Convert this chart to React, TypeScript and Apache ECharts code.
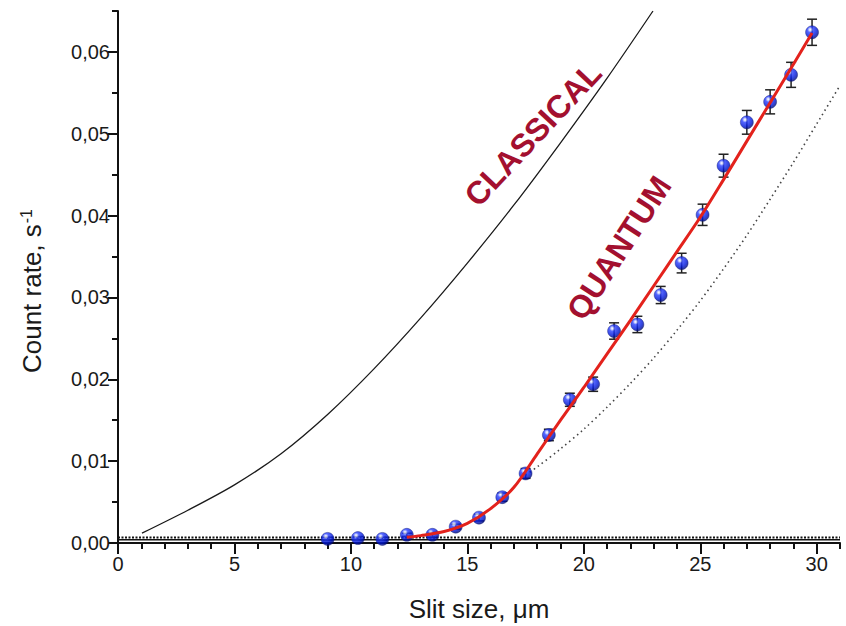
import React, { useEffect, useRef } from "react";
import * as echarts from "echarts";

// Measured data (slit size in µm, count rate in s^-1)
const slitSize = [9.0, 10.3, 11.35, 12.4, 13.5, 14.5, 15.5, 16.5, 17.5, 18.5, 19.4, 20.4, 21.3, 22.3, 23.3, 24.2, 25.1, 26.0, 27.0, 28.0, 28.9, 29.8];
const countRate = [0.0005, 0.0006, 0.0005, 0.001, 0.001, 0.002, 0.0031, 0.0056, 0.0085, 0.0132, 0.0175, 0.0194, 0.0259, 0.0267, 0.0303, 0.0342, 0.0401, 0.0461, 0.0514, 0.0539, 0.0572, 0.0624];
const countErr = [0.0002, 0.0002, 0.0002, 0.0002, 0.0003, 0.0003, 0.0004, 0.0005, 0.0006, 0.0007, 0.0008, 0.00087, 0.001, 0.001, 0.00105, 0.0012, 0.0013, 0.0014, 0.00145, 0.00147, 0.00153, 0.0016];

// Quantum fit (red)
const fitX = [12.4, 13, 14, 15, 16, 17, 18, 19, 20, 21, 22, 23, 24, 25, 26, 27, 28, 29, 29.8];
const fitY = [0.0007, 0.0009, 0.0014, 0.0024, 0.0042, 0.0068, 0.0109, 0.015, 0.019, 0.0231, 0.0272, 0.0314, 0.0356, 0.0398, 0.0444, 0.0491, 0.0538, 0.0585, 0.0623];

// Classical curve (black solid)
const classicalX = [1.03, 3, 5, 7, 9, 11, 13, 15, 17, 19, 21, 22.97];
const classicalY = [0.0012, 0.004, 0.0071, 0.0109, 0.0157, 0.0213, 0.0275, 0.0342, 0.0413, 0.0489, 0.0568, 0.065];

// Dotted curve
const dottedX = [17.5, 18, 19, 20, 21, 22, 23, 24, 25, 26, 27, 28, 29, 30, 31];
const dottedY = [0.0083, 0.0093, 0.0115, 0.0139, 0.0166, 0.0195, 0.0226, 0.026, 0.0296, 0.0335, 0.0376, 0.042, 0.0465, 0.0512, 0.0559];

// Background levels near zero
const backgroundX = [0, 31];
const backgroundSolid = 0.0004;
const backgroundDotted = 0.00068;

const xMajorTicks = [0, 5, 10, 15, 20, 25, 30];
const yMajorTicks = [0, 0.01, 0.02, 0.03, 0.04, 0.05, 0.06];

const FONT = "'Liberation Sans', Arial, Helvetica, sans-serif";

export default function App() {
  const ref = useRef<HTMLDivElement>(null);

  useEffect(() => {
    if (!ref.current) return;
    const chart = echarts.init(ref.current, null, { renderer: "svg" });

    const pts = slitSize.map((x, i) => [x, countRate[i]]);
    const errData = slitSize.map((x, i) => [x, countRate[i] - countErr[i], countRate[i] + countErr[i]]);
    const zip = (xs: number[], ys: number[]) => xs.map((x, i) => [x, ys[i]]);

    const sphere = {
      type: "radial",
      x: 0.36,
      y: 0.3,
      r: 0.72,
      colorStops: [
        { offset: 0, color: "#ffffff" },
        { offset: 0.12, color: "#c4ccff" },
        { offset: 0.3, color: "#2a40ff" },
        { offset: 0.72, color: "#0016d8" },
        { offset: 1, color: "#000a78" },
      ],
    };

    const axisCommonX = {
      type: "value",
      min: 0,
      max: 31,
      position: "bottom",
      splitLine: { show: false },
    };
    const axisCommonY = {
      type: "value",
      min: 0,
      max: 0.065,
      position: "left",
      splitLine: { show: false },
    };

    chart.setOption({
      animation: false,
      backgroundColor: "#ffffff",
      grid: { left: 118, top: 11, width: 722, height: 532, containLabel: false },
      xAxis: [
        {
          ...axisCommonX,
          interval: 5,
          axisLine: { show: true, lineStyle: { color: "#111", width: 2 } },
          axisTick: { show: true, inside: false, length: 11, lineStyle: { color: "#111", width: 2 }, customValues: xMajorTicks },
          axisLabel: {
            show: true,
            customValues: xMajorTicks,
            margin: 11,
            color: "#1a1a1a",
            fontSize: 20,
            fontFamily: FONT,
            formatter: (v: number) => String(Math.round(v)),
          },
        },
        {
          ...axisCommonX,
          interval: 1,
          axisLine: { show: false },
          axisTick: { show: true, inside: false, length: 6, lineStyle: { color: "#111", width: 2 } },
          axisLabel: { show: false },
        },
      ],
      yAxis: [
        {
          ...axisCommonY,
          interval: 0.01,
          axisLine: { show: true, lineStyle: { color: "#111", width: 2 } },
          axisTick: { show: true, inside: false, length: 10, lineStyle: { color: "#111", width: 2 }, customValues: yMajorTicks },
          axisLabel: {
            show: true,
            customValues: yMajorTicks,
            margin: 8,
            color: "#1a1a1a",
            fontSize: 20,
            fontFamily: FONT,
            formatter: (v: number) => v.toFixed(2).replace(".", ","),
          },
        },
        {
          ...axisCommonY,
          interval: 0.005,
          axisLine: { show: false },
          axisTick: { show: true, inside: false, length: 6, lineStyle: { color: "#111", width: 2 } },
          axisLabel: { show: false },
        },
      ],
      graphic: [
        {
          type: "line",
          shape: { x1: 118, y1: 543, x2: 118, y2: 553 },
          style: { stroke: "#111", lineWidth: 2 },
        },
        {
          type: "text",
          x: 533,
          y: 134,
          rotation: (47 * Math.PI) / 180,
          style: {
            text: "CLASSICAL",
            fill: "#a3102f",
            font: `bold 32px ${FONT}`,
            align: "center",
            verticalAlign: "middle",
          },
          z: 10,
        },
        {
          type: "text",
          x: 619,
          y: 248,
          rotation: (57 * Math.PI) / 180,
          style: {
            text: "QUANTUM",
            fill: "#a3102f",
            font: `bold 32px ${FONT}`,
            align: "center",
            verticalAlign: "middle",
          },
          z: 10,
        },
        {
          type: "text",
          x: 479,
          y: 609,
          style: {
            text: "Slit size, μm",
            fill: "#1a1a1a",
            font: `26px ${FONT}`,
            align: "center",
            verticalAlign: "middle",
          },
        },
        {
          type: "text",
          x: 32,
          y: 291,
          rotation: Math.PI / 2,
          style: {
            text: "Count rate, s{sup|-1}",
            fill: "#1a1a1a",
            font: `26px ${FONT}`,
            fontSize: 26,
            fontFamily: FONT,
            align: "center",
            verticalAlign: "middle",
            rich: {
              sup: { fontSize: 16, fontFamily: FONT, fill: "#1a1a1a", verticalAlign: "top", padding: [0, 0, 12, 1] },
            },
          },
        },
      ],
      series: [
        {
          type: "line",
          name: "background solid",
          data: backgroundX.map((x) => [x, backgroundSolid]),
          symbol: "none",
          lineStyle: { color: "#111", width: 1.5 },
          z: 1,
        },
        {
          type: "line",
          name: "background dotted",
          data: backgroundX.map((x) => [x, backgroundDotted]),
          symbol: "none",
          lineStyle: { color: "#111", width: 2, type: [2, 1.5] },
          z: 1,
        },
        {
          type: "line",
          name: "classical",
          data: zip(classicalX, classicalY),
          symbol: "none",
          smooth: 0.3,
          lineStyle: { color: "#1a1a1a", width: 1.3 },
          z: 2,
        },
        {
          type: "line",
          name: "dotted",
          data: zip(dottedX, dottedY),
          symbol: "none",
          smooth: 0.3,
          lineStyle: { color: "#444", width: 1.6, type: [1.5, 3.5] },
          z: 2,
        },
        {
          type: "custom",
          name: "errors",
          data: errData,
          z: 3,
          renderItem: (params: any, api: any) => {
            const x = api.value(0);
            const lo = api.coord([x, api.value(1)]);
            const hi = api.coord([x, api.value(2)]);
            const cap = 5;
            const style = { stroke: "#222", lineWidth: 1.5 };
            return {
              type: "group",
              children: [
                { type: "line", shape: { x1: lo[0], y1: lo[1], x2: hi[0], y2: hi[1] }, style },
                { type: "line", shape: { x1: lo[0] - cap, y1: lo[1], x2: lo[0] + cap, y2: lo[1] }, style },
                { type: "line", shape: { x1: hi[0] - cap, y1: hi[1], x2: hi[0] + cap, y2: hi[1] }, style },
              ],
            };
          },
        },
        {
          type: "scatter",
          name: "data",
          data: pts,
          symbol: "circle",
          symbolSize: 13,
          itemStyle: { color: sphere as any, borderColor: "#0a1470", borderWidth: 0.5 },
          z: 4,
        },
        {
          type: "line",
          name: "fit",
          data: zip(fitX, fitY),
          symbol: "none",
          smooth: 0.3,
          lineStyle: { color: "#e3221c", width: 3 },
          z: 5,
        },
      ],
    } as any);

    return () => chart.dispose();
  }, []);

  return <div ref={ref} style={{ width: 846, height: 626, position: "absolute", left: 0, top: 0 }} />;
}
